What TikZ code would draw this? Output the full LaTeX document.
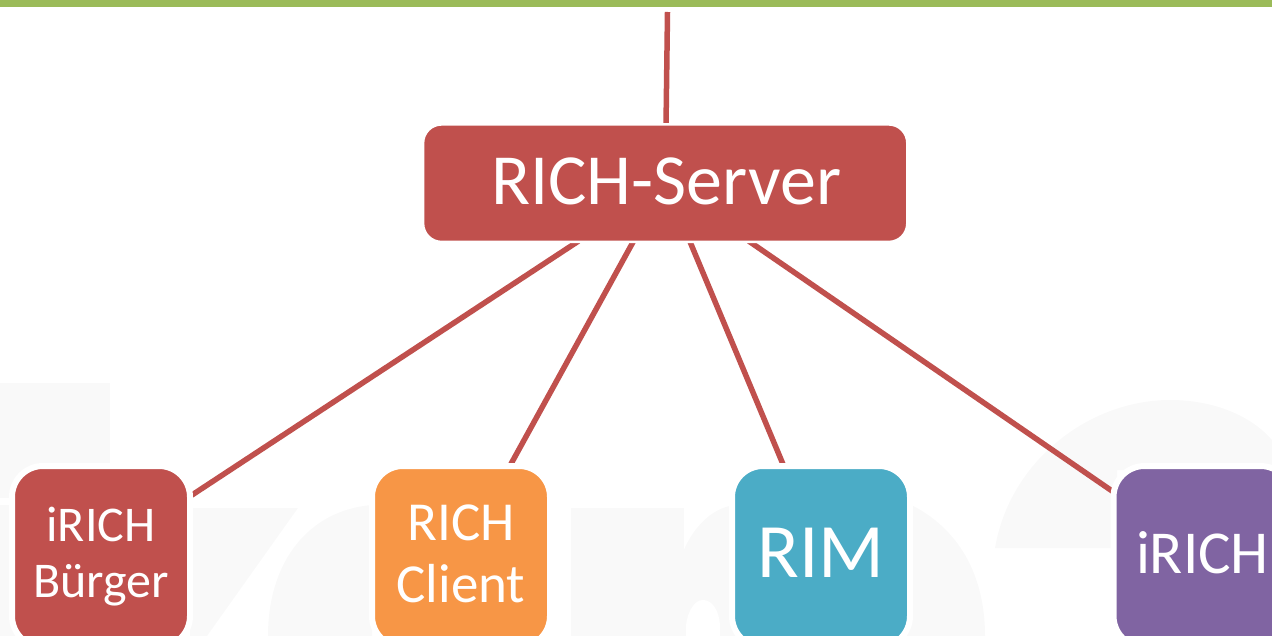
\documentclass[tikz,border=0pt]{standalone}
\usepackage{fontspec}
\setmainfont{Carlito}
\usetikzlibrary{calc,backgrounds}
\definecolor{rred}{HTML}{C0504D}
\definecolor{rgreen}{HTML}{9BBB59}
\definecolor{rorange}{HTML}{F79646}
\definecolor{rblue}{HTML}{4BACC6}
\definecolor{rpurple}{HTML}{8064A2}
\definecolor{wm}{HTML}{F9F9F9}
\tikzset{
  x=1pt,y=-1pt,
  box/.style={draw=white,line width=6pt,rounded corners=31pt,minimum width=178pt,minimum height=181pt,inner sep=0pt,anchor=center},
  boxtext/.style={text=white,align=center,inner sep=0pt,anchor=center},
  serverbox/.style={draw=white,line width=2.5pt,rounded corners=18.5pt,fill=rred,minimum width=484.2pt,minimum height=117.5pt,inner sep=0pt,anchor=center},
  link/.style={draw=rred,line width=5.5pt},
  watermark/.style={fill=wm,draw=none}
}
\begin{document}
\begin{tikzpicture}
\useasboundingbox (0,0) rectangle (1272,636);
\node[fill=rgreen,minimum width=1272pt,minimum height=7pt,inner sep=0pt,anchor=north west] (bar) at (0,0) {};
\coordinate (top) at (667.5,12);
\node[serverbox] (server) at (665.2,183.2) {};
\node[boxtext,font=\fontsize{72}{72}\selectfont] (servertext) at ($(server)+(1,-1.7)$) {RICH-Server};
\node[box,fill=rred] (buerger) at (101,556.5) {};
\node[boxtext,font=\fontsize{50}{56}\selectfont] (buergertext) at (buerger) {iRICH\\Bürger};
\node[box,fill=rorange] (client) at (461,556.5) {};
\node[boxtext,font=\fontsize{55}{62}\selectfont] (clienttext) at ($(client)+(0,-3)$) {RICH\\Client};
\node[box,fill=rblue] (rim) at (821,556.5) {};
\node[boxtext,font=\fontsize{77}{77}\selectfont] (rimtext) at ($(rim)+(0,-4)$) {RIM};
\node[box,fill=rpurple] (irich) at (1202.5,556.5) {};
\node[boxtext,font=\fontsize{61}{61}\selectfont] (irichtext) at ($(irich)+(0,-4)$) {iRICH};
\begin{pgfonlayer}{background}
% faint watermark
\fill[watermark] (0,383) rectangle (110,498);
\fill[watermark] (0,505) rectangle (110,636);
\fill[watermark] (190,508) -- (298,508) -- (207,636) -- (190,636) -- cycle;
\fill[watermark] (268,636) .. controls (268,560) and (310,510) .. (372,505) -- (372,636) -- cycle;
\fill[watermark] (571,508) -- (684,508) -- (684,636) -- (571,636) -- cycle;
\fill[watermark] (678,636) -- (680,560) .. controls (690,530) and (710,508) .. (735,505) -- (735,636) -- cycle;
\fill[white] (686,636) -- (686,625) .. controls (688,610) and (695,600) .. (703,600) .. controls (712,600) and (719,610) .. (720,625) -- (720,636) -- cycle;
\fill[watermark] (907,503) .. controls (945,520) and (985,560) .. (985,636) -- (907,636) -- cycle;
\fill[watermark] (995,548) .. controls (1010,460) and (1090,400) .. (1170,400) .. controls (1220,400) and (1255,420) .. (1272,440) -- (1272,470) -- (1117,470) -- (1117,548) -- cycle;
% connectors, cut off by the white rims of the boxes
\draw[link] (top) -- ($(server)+(0.8,-57.2)$);
\draw[link] ($(server)+(-86.6,57.8)$) -- ($(buerger)+(86,-58.2)$);
\draw[link] ($(server)+(-31.6,57.8)$) -- ($(client)+(47.2,-87.5)$);
\draw[link] ($(server)+(24.5,57.8)$) -- ($(rim)+(-36,-87.5)$);
\draw[link] ($(server)+(83.4,57.8)$) -- ($(irich)+(-85.5,-62.1)$);
\end{pgfonlayer}
\end{tikzpicture}
\end{document}
